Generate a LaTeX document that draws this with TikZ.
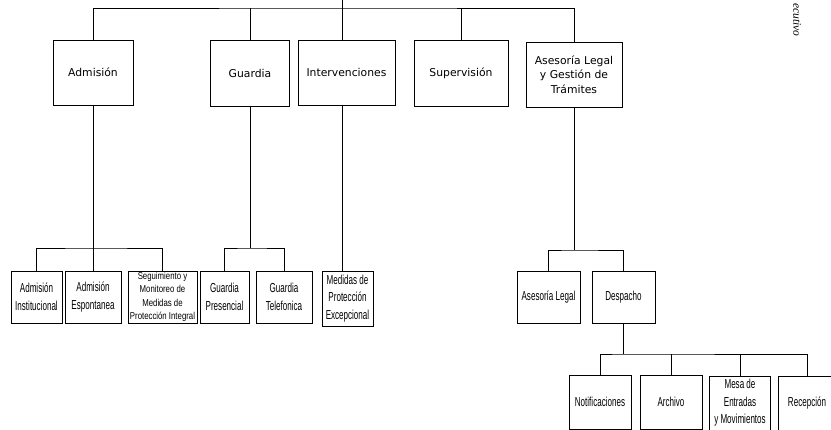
\documentclass[tikz,border=0pt]{standalone}
\usepackage{fontspec}
\setmainfont{DejaVu Sans}
\newfontfamily\narrowfont{Liberation Sans}[FakeStretch=0.62]
\newfontfamily\halfnarrowfont{Liberation Sans}[FakeStretch=0.78]
\newfontfamily\scanserif{Liberation Serif}
\usepackage{tikz}
\tikzset{
  unitbox/.style={draw, line width=0.8pt, align=center, inner sep=2pt,
    font=\fontsize{10.8}{14.5}\selectfont},
  subbox/.style={draw, line width=0.8pt, align=center, inner sep=1pt,
    font=\narrowfont\fontsize{13}{17.5}\selectfont},
  link/.style={line width=0.8pt}
}
\newcommand{\unitnode}[6]{\node[unitbox, minimum width=#4pt, minimum height=#5pt] (#1) at ( #2 , #3 ) {#6};}
\newcommand{\subnode}[6]{\node[subbox, minimum width=#4pt, minimum height=#5pt] (#1) at ( #2 , #3 ) {#6};}

\begin{document}
\begin{tikzpicture}[x=1pt,y=-1pt]
\useasboundingbox (0,0) rectangle (831,430);
% top row of units
\unitnode{adm}{93}{72.5}{80}{65}{Admisión}
\unitnode{guard}{250}{73}{79}{66}{Guardia}
\unitnode{interv}{346.5}{72.5}{97}{65}{Intervenciones}
\unitnode{superv}{461}{73}{94}{66}{Supervisión}
\unitnode{aseso}{574}{74.5}{96}{65}{Asesoría Legal\\y Gestión de\\Trámites}
% second row of units
\subnode{ainst}{36.5}{297}{51}{52}{Admisión\\Institucional}
\subnode{aesp}{93}{297}{56}{52}{Admisión\\Espontanea}
\node[subbox, minimum width=69pt, minimum height=52pt,
  font=\halfnarrowfont\fontsize{10}{13.3}\selectfont] (seg) at (162.5,297)
  {Seguimiento y\\Monitoreo de\\Medidas de\\Protección Integral};
\subnode{gpres}{224.5}{297}{49}{52}{Guardia\\Presencial}
\subnode{gtel}{284}{297}{56}{52}{Guardia\\Telefonica}
\subnode{medidas}{347.5}{298.5}{51}{55}{Medidas de\\Protección\\Excepcional}
\subnode{alegal}{548.5}{297}{63}{52}{Asesoría Legal}
\subnode{desp}{623.5}{297}{63}{52}{Despacho}
% third row of units
\subnode{notif}{600}{402}{62}{54}{Notificaciones}
\subnode{archivo}{671}{402}{62}{54}{Archivo}
\subnode{mesa}{740}{403}{61}{54}{Mesa de\\Entradas\\y Movimientos}
\subnode{recep}{807}{403}{58}{54}{Recepción}
% top connectors
\coordinate (root) at (342,0);
\coordinate (bus) at (342,8);
\draw[link] (root) -- (root |- interv.north);
\draw[link] (adm.north) |- (bus) -| (aseso.north);
\draw[link] (guard.north) -- (guard.north |- bus);
\draw[link] (superv.north) -- (superv.north |- bus);
% second row connectors
\coordinate (admbus) at (93,248);
\draw[link] (adm.south) -- (admbus);
\draw[link] (ainst.north) |- (admbus) -| (seg.north);
\draw[link] (aesp.north) -- (aesp.north |- admbus);
\coordinate (guardbus) at (250,248);
\draw[link] (guard.south) -- (guardbus);
\draw[link] (gpres.north) |- (guardbus) -| (gtel.north);
\draw[link] (root |- interv.south) -- (root |- medidas.north);
\coordinate (asebus) at (574,250);
\draw[link] (aseso.south) -- (asebus);
\draw[link] (alegal.north) |- (asebus) -| (desp.north);
% third row connectors
\coordinate (despbus) at (623.5,354);
\draw[link] (desp.south) -- (despbus);
\draw[link] (notif.north) |- (despbus) -| (recep.north);
\draw[link] (archivo.north) -- (archivo.north |- despbus);
\draw[link] (mesa.north) -- (mesa.north |- despbus);
% cut text at the page edge
\node[rotate=-90, inner sep=0pt, font=\scanserif\itshape\fontsize{11.5}{11.5}\selectfont] (edgetext) at (797,20) {ecutivo};
\end{tikzpicture}
\end{document}
